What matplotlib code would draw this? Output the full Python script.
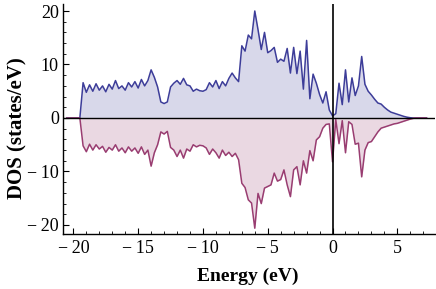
import numpy as np
import matplotlib
matplotlib.use('Agg')
import matplotlib.pyplot as plt
from matplotlib.ticker import MultipleLocator, FuncFormatter

plt.rcParams['font.family'] = ['Liberation Serif', 'DejaVu Serif']

# energy grid (eV), 0.25 eV step
energy = np.round(np.arange(-20.5, 7.26, 0.25), 2)

# spin up DOS (states/eV), one row per eV
dos_up = [0, 0,
          0, 0, 0, 6.6,
          4.8, 6.2, 5.0, 6.4,
          5.2, 6.0, 4.9, 6.3,
          5.4, 7.0, 5.5, 6.0,
          5.2, 6.6, 5.8, 6.8,
          5.6, 7.2, 6.0, 7.0,
          9.0, 7.6, 5.8, 3.0,
          2.7, 3.0, 5.8, 6.5,
          7.0, 6.3, 7.4, 6.2,
          6.0, 5.0, 5.4, 5.1,
          5.0, 5.3, 6.6, 5.8,
          7.0, 5.5, 6.8, 6.0,
          7.4, 8.4, 7.5, 6.8,
          13.5, 12.5, 15.5, 14.8,
          20.0, 16.5, 12.8, 16.0,
          12.2, 12.6, 13.2, 10.4,
          11.0, 10.6, 13.0, 8.4,
          13.2, 8.3, 12.5, 5.4,
          14.5, 3.6, 8.2, 6.5,
          4.4, 2.8, 4.9, 1.5,
          0.4, 0.8, 6.5, 2.5,
          9.0, 3.0, 7.5, 4.2,
          6.0, 11.5, 6.3, 5.0,
          4.3, 3.5, 2.8, 2.6,
          2.0, 1.5, 1.1, 0.9,
          0.7, 0.5, 0.3, 0.15,
          0.05, 0, 0, 0,
          0, 0]

# spin down DOS (states/eV)
dos_down = [0, 0,
            0, 0, 0, -5.2,
            -6.3, -4.9, -6.0, -5.0,
            -5.8, -5.3, -6.4, -5.5,
            -6.0, -5.0, -6.2, -5.6,
            -6.5, -5.4, -6.2, -5.6,
            -6.6, -5.4, -6.8, -6.0,
            -9.0, -6.5, -5.0, -2.6,
            -3.0, -2.5, -5.5, -6.0,
            -7.2, -6.0, -7.5, -5.8,
            -6.2, -5.0, -5.4, -5.1,
            -5.2, -5.6, -6.8, -5.8,
            -6.5, -7.5, -6.0, -7.0,
            -6.4, -7.2, -6.6, -7.8,
            -12.2, -13.0, -15.3, -15.9,
            -20.6, -14.1, -16.0, -13.1,
            -12.8, -12.5, -10.3, -11.8,
            -11.5, -9.7, -12.5, -14.7,
            -9.7, -9.1, -12.5, -8.0,
            -10.3, -6.1, -8.0, -4.1,
            -3.5, -1.9, -1.2, -1.1,
            -8.2, -0.3, -4.8, -0.5,
            -6.5, -0.7, -1.2, -4.9,
            -4.7, -11.0, -6.0, -4.6,
            -4.4, -3.5, -2.6, -1.9,
            -1.7, -1.5, -1.3, -1.1,
            -1.0, -0.8, -0.6, -0.4,
            -0.2, -0.05, 0, 0,
            0, 0]

c_up = '#3d3d99'
c_dn = '#993d71'

fig = plt.figure(figsize=(4.36, 2.89), dpi=100)
ax = fig.add_axes([0.1445, 0.19, 0.853, 0.796])

ax.fill_between(energy, 0, dos_up, color=c_up, alpha=0.2, lw=0)
ax.fill_between(energy, 0, dos_down, color=c_dn, alpha=0.2, lw=0)
ax.plot(energy, dos_up, color=c_up, lw=1.1)
ax.plot(energy, dos_down, color=c_dn, lw=1.1)

ax.axhline(0, color='black', lw=1.0)
ax.axvline(0, color='black', lw=1.2)

ax.set_xlim(-20.8, 7.9)
ax.set_ylim(-21.7, 21.3)

for s in ['top', 'right']:
    ax.spines[s].set_visible(False)
for s in ['left', 'bottom']:
    ax.spines[s].set_linewidth(1.0)

ax.xaxis.set_major_locator(MultipleLocator(5))
ax.xaxis.set_minor_locator(MultipleLocator(1))
ax.yaxis.set_major_locator(MultipleLocator(10))
ax.yaxis.set_minor_locator(MultipleLocator(2))
ax.tick_params(which='major', direction='in', length=4, width=0.8, labelsize=13)
ax.tick_params(axis='x', which='major', pad=4)
ax.tick_params(axis='y', which='major', pad=3)
ax.tick_params(which='minor', direction='in', length=2, width=0.6)

fmt = FuncFormatter(lambda v, p: ('\u2212\u2009%d' % -v) if v < 0 else '%d' % v)
ax.xaxis.set_major_formatter(fmt)
ax.yaxis.set_major_formatter(fmt)

fig.text(248 / 436, 1 - 276 / 289, 'Energy (eV)', fontsize=14, fontweight='bold',
         ha='center', va='center')
fig.text(17 / 436, 1 - 128 / 289, 'DOS (states/eV)', fontsize=15, fontweight='bold',
         ha='center', va='center', rotation=90)

fig.savefig('out.png', dpi=100)
